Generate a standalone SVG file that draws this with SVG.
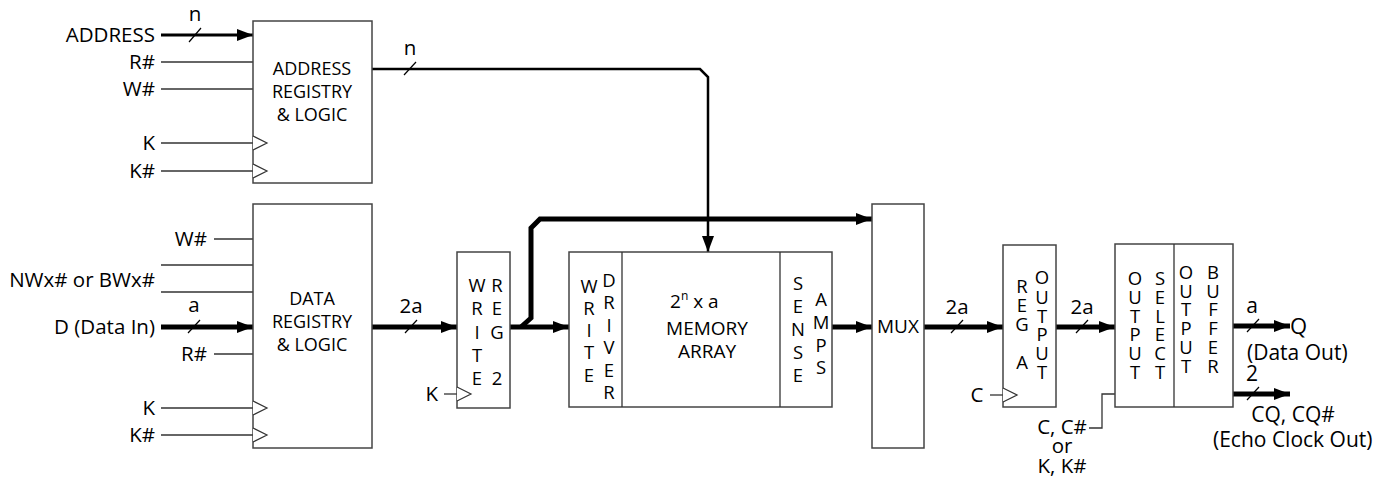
<svg xmlns="http://www.w3.org/2000/svg" width="1388" height="479" viewBox="0 0 1388 479">
<style>
text{font-family:"Open Sans","Noto Sans","Liberation Sans",sans-serif;fill:#000}
.lbl{font-size:20.5px}
.rl{font-size:21px}
.box{font-size:18px}
.vt{font-size:18.5px}
.mid{text-anchor:middle}
.end{text-anchor:end}
.blk{fill:#fff;stroke:#444;stroke-width:1.5}
.thin{fill:none;stroke:#333;stroke-width:1.3}
.clk{fill:#fff;stroke:#333;stroke-width:1.2}
.bus{fill:none;stroke:#000;stroke-width:5}
.bus3{fill:none;stroke:#000;stroke-width:3}
.bus2{fill:none;stroke:#000;stroke-width:2.5}
.sl{stroke:#000;stroke-width:1.2}
</style>
<defs>
<marker id="ah" markerUnits="userSpaceOnUse" markerWidth="17" markerHeight="12" refX="16" refY="6" orient="auto">
<path d="M0,0 L16,6 L0,12 z" fill="#000"/>
</marker>
</defs>

<g id="connectors">
<line class="bus3" x1="161" y1="35" x2="253" y2="35" marker-end="url(#ah)"/>
<line class="sl" x1="189" y1="42" x2="201" y2="28"/>
<line class="thin" x1="161" y1="62" x2="253" y2="62"/>
<line class="thin" x1="161" y1="89" x2="253" y2="89"/>
<line class="thin" x1="161" y1="143" x2="253" y2="143"/>
<line class="thin" x1="161" y1="171" x2="253" y2="171"/>
<path class="bus2" d="M372,69 H700 L708,77 V252" marker-end="url(#ah)"/>
<line class="sl" x1="404" y1="75" x2="416" y2="62"/>
<line class="thin" x1="214" y1="239" x2="253" y2="239"/>
<line class="thin" x1="161" y1="265" x2="253" y2="265"/>
<line class="thin" x1="161" y1="292" x2="253" y2="292"/>
<line class="bus" x1="161" y1="327" x2="253" y2="327" marker-end="url(#ah)"/>
<line class="sl" x1="188" y1="333" x2="200" y2="320"/>
<line class="thin" x1="214" y1="354" x2="253" y2="354"/>
<line class="thin" x1="161" y1="408" x2="253" y2="408"/>
<line class="thin" x1="161" y1="435" x2="253" y2="435"/>
<line class="bus" x1="372" y1="327" x2="457" y2="327" marker-end="url(#ah)"/>
<line class="sl" x1="405" y1="333" x2="417" y2="320"/>
<line class="thin" x1="444" y1="394" x2="457" y2="394"/>
<line class="bus" x1="510" y1="327" x2="569" y2="327" marker-end="url(#ah)"/>
<path class="bus" d="M521,327 L531,318 V228 L540,219 H872" marker-end="url(#ah)"/>
<line class="bus" x1="832" y1="327" x2="872" y2="327" marker-end="url(#ah)"/>
<line class="bus" x1="924" y1="327" x2="1003" y2="327" marker-end="url(#ah)"/>
<line class="sl" x1="951" y1="333" x2="963" y2="320"/>
<line class="thin" x1="990" y1="395" x2="1003" y2="395"/>
<line class="bus" x1="1056" y1="327" x2="1115" y2="327" marker-end="url(#ah)"/>
<line class="sl" x1="1076" y1="333" x2="1088" y2="320"/>
<path class="thin" d="M1115,394 H1102 V428 H1089"/>
<line class="bus" x1="1233" y1="326" x2="1290" y2="326" marker-end="url(#ah)"/>
<line class="sl" x1="1247" y1="332" x2="1259" y2="319"/>
<line class="bus" x1="1233" y1="394" x2="1290" y2="394" marker-end="url(#ah)"/>
<line class="sl" x1="1247" y1="400" x2="1259" y2="387"/>
</g>

<g id="labels">
<text class="lbl end" x="155" y="42">ADDRESS</text>
<text class="lbl mid" x="195" y="21">n</text>
<text class="lbl end" x="155" y="69">R#</text>
<text class="lbl end" x="155" y="96">W#</text>
<text class="lbl end" x="155" y="150">K</text>
<text class="lbl end" x="155" y="178">K#</text>
<text class="lbl mid" x="410" y="55">n</text>
<text class="lbl end" x="207" y="246">W#</text>
<text class="lbl end" x="155" y="287">NWx# or BWx#</text>
<text class="lbl mid" x="194" y="312">a</text>
<text class="lbl end" x="155" y="334">D (Data In)</text>
<text class="lbl end" x="207" y="361">R#</text>
<text class="lbl end" x="155" y="415">K</text>
<text class="lbl end" x="155" y="442">K#</text>
<text class="lbl mid" x="411" y="313">2a</text>
<text class="lbl end" x="438" y="401">K</text>
<text class="lbl mid" x="957" y="314">2a</text>
<text class="lbl mid" x="977" y="402">C</text>
<text class="lbl mid" x="1082" y="314">2a</text>
<text class="lbl mid" x="1062" y="434">C, C#</text>
<text class="lbl mid" x="1062" y="453">or</text>
<text class="lbl mid" x="1062" y="473">K, K#</text>
<text class="rl mid" x="1252" y="313">a</text>
<text class="rl" x="1290" y="334" style="font-size:22px">Q</text>
<text class="rl" x="1247" y="360">(Data Out)</text>
<text class="rl mid" x="1252" y="381">2</text>
<text class="rl mid" x="1293" y="422">CQ, CQ#</text>
<text class="rl" x="1213" y="447">(Echo Clock Out)</text>
</g>

<g id="address-registry">
<rect class="blk" x="253" y="21" width="119" height="162"/>
<path class="clk" d="M253,136 L267,143 L253,150"/>
<path class="clk" d="M253,164 L267,171 L253,178"/>
<text class="box mid" x="312" y="75">ADDRESS</text>
<text class="box mid" x="312" y="98">REGISTRY</text>
<text class="box mid" x="312" y="121">&amp; LOGIC</text>
</g>

<g id="data-registry">
<rect class="blk" x="253" y="204" width="119" height="244"/>
<path class="clk" d="M253,401 L267,408 L253,415"/>
<path class="clk" d="M253,428 L267,435 L253,442"/>
<text class="box mid" x="312" y="305">DATA</text>
<text class="box mid" x="312" y="328">REGISTRY</text>
<text class="box mid" x="312" y="351">&amp; LOGIC</text>
</g>

<g id="write-reg">
<rect class="blk" x="457" y="252" width="53" height="156"/>
<path class="clk" d="M457,387 L471,394 L457,401"/>
<text class="vt mid"><tspan x="477" y="292">W</tspan><tspan x="477" y="315">R</tspan><tspan x="477" y="339">I</tspan><tspan x="477" y="362">T</tspan><tspan x="477" y="385">E</tspan></text>
<text class="vt mid"><tspan x="497" y="292">R</tspan><tspan x="497" y="315">E</tspan><tspan x="497" y="339">G</tspan><tspan x="497" y="385">2</tspan></text>
</g>

<g id="memory-array">
<rect class="blk" x="569" y="252" width="263" height="155"/>
<line class="thin" x1="622" y1="252" x2="622" y2="407"/>
<line class="thin" x1="780" y1="252" x2="780" y2="407"/>
<text class="vt mid"><tspan x="589" y="293">W</tspan><tspan x="589" y="315">R</tspan><tspan x="589" y="337">I</tspan><tspan x="589" y="359">T</tspan><tspan x="589" y="382">E</tspan></text>
<text class="vt mid"><tspan x="609" y="287">D</tspan><tspan x="609" y="309">R</tspan><tspan x="609" y="332">I</tspan><tspan x="609" y="354">V</tspan><tspan x="609" y="377">E</tspan><tspan x="609" y="399">R</tspan></text>
<text class="box" x="670" y="308" style="font-size:19px">2<tspan font-size="12" dy="-8">n</tspan><tspan dy="8"> x a</tspan></text>
<text class="box mid" x="707" y="335" style="font-size:19px">MEMORY</text>
<text class="box mid" x="707" y="358" style="font-size:19px">ARRAY</text>
<text class="vt mid"><tspan x="798" y="290">S</tspan><tspan x="798" y="313">E</tspan><tspan x="798" y="336">N</tspan><tspan x="798" y="359">S</tspan><tspan x="798" y="382">E</tspan></text>
<text class="vt mid"><tspan x="821" y="306">A</tspan><tspan x="821" y="329">M</tspan><tspan x="821" y="352">P</tspan><tspan x="821" y="374">S</tspan></text>
</g>

<g id="mux">
<rect class="blk" x="872" y="204" width="52" height="244"/>
<text class="box mid" x="898" y="333" style="font-size:19px">MUX</text>
</g>

<g id="output-reg">
<rect class="blk" x="1003" y="245" width="53" height="162"/>
<path class="clk" d="M1003,388 L1017,395 L1003,402"/>
<text class="vt mid"><tspan x="1022" y="293">R</tspan><tspan x="1022" y="312">E</tspan><tspan x="1022" y="331">G</tspan><tspan x="1022" y="369">A</tspan></text>
<text class="vt mid"><tspan x="1042" y="284">O</tspan><tspan x="1042" y="304">U</tspan><tspan x="1042" y="323">T</tspan><tspan x="1042" y="341">P</tspan><tspan x="1042" y="360">U</tspan><tspan x="1042" y="379">T</tspan></text>
</g>

<g id="output-select-buffer">
<rect class="blk" x="1115" y="244" width="118" height="163"/>
<line class="thin" x1="1174" y1="244" x2="1174" y2="407"/>
<text class="vt mid"><tspan x="1135" y="285">O</tspan><tspan x="1135" y="304">U</tspan><tspan x="1135" y="323">T</tspan><tspan x="1135" y="341">P</tspan><tspan x="1135" y="360">U</tspan><tspan x="1135" y="379">T</tspan></text>
<text class="vt mid"><tspan x="1160" y="285">S</tspan><tspan x="1160" y="304">E</tspan><tspan x="1160" y="323">L</tspan><tspan x="1160" y="341">E</tspan><tspan x="1160" y="360">C</tspan><tspan x="1160" y="379">T</tspan></text>
<text class="vt mid"><tspan x="1186" y="279">O</tspan><tspan x="1186" y="298">U</tspan><tspan x="1186" y="316">T</tspan><tspan x="1186" y="335">P</tspan><tspan x="1186" y="354">U</tspan><tspan x="1186" y="373">T</tspan></text>
<text class="vt mid"><tspan x="1213" y="279">B</tspan><tspan x="1213" y="298">U</tspan><tspan x="1213" y="316">F</tspan><tspan x="1213" y="335">F</tspan><tspan x="1213" y="354">E</tspan><tspan x="1213" y="373">R</tspan></text>
</g>
</svg>
